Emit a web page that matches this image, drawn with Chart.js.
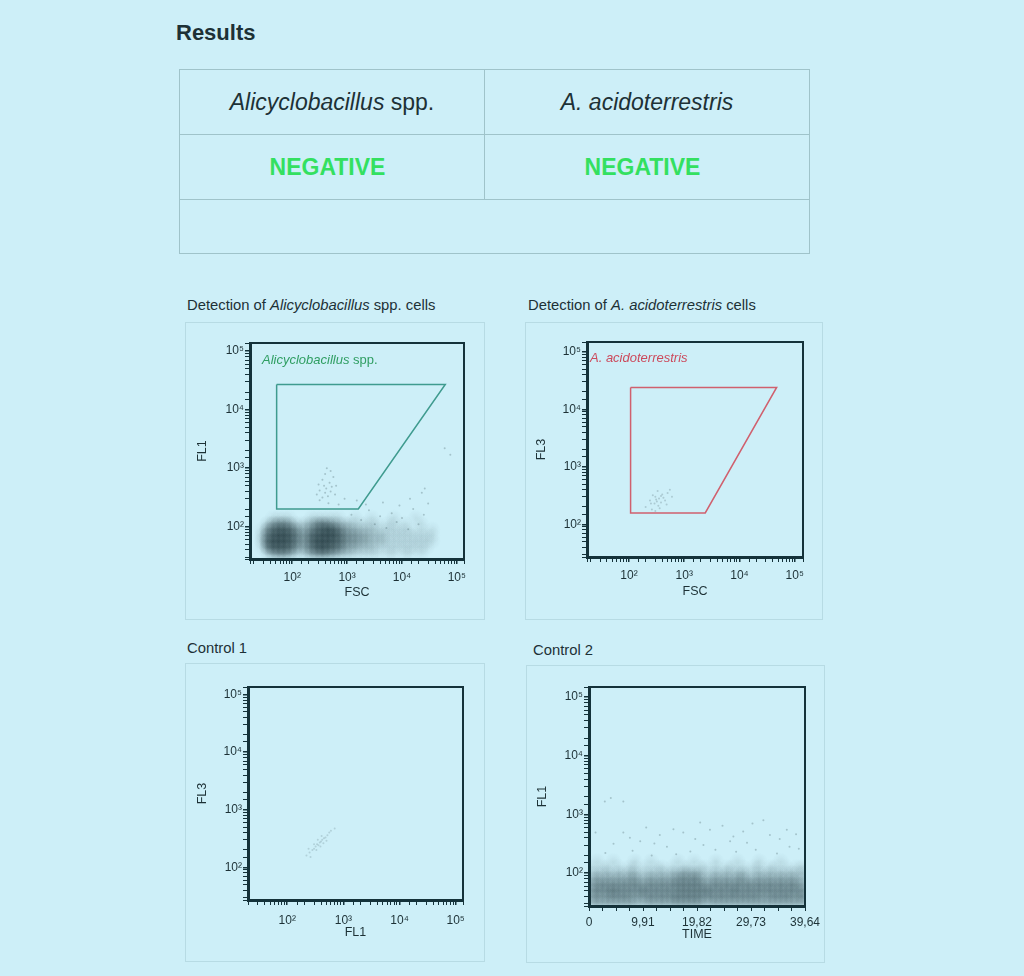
<!DOCTYPE html>
<html><head><meta charset="utf-8">
<script src="https://cdn.jsdelivr.net/npm/chart.js@4.4.1/dist/chart.umd.min.js"></script>
<style>
html,body{margin:0;padding:0;background:#cdeff8;}
body{width:1024px;height:976px;position:relative;overflow:hidden;font-family:"Liberation Sans",Arial,sans-serif;color:#1d3136;}
.abs{position:absolute;white-space:nowrap;}
#results{left:176px;top:22px;font-size:22px;line-height:22px;font-weight:bold;}
#tbl{position:absolute;left:179px;top:69px;width:630px;border-collapse:collapse;table-layout:fixed;}
#tbl td{border:1px solid #9fc3ca;text-align:center;padding:0;font-size:23px;}
#tbl td.neg{color:#33e060;font-weight:bold;padding-right:9px;}
.panel{position:absolute;border:1px solid #b7dbe4;box-sizing:border-box;}
.ptitle{position:absolute;font-size:14.8px;line-height:17px;white-space:nowrap;}
.glabel{position:absolute;font-size:13px;line-height:15px;white-space:nowrap;}
canvas{position:absolute;}
</style></head>
<body>
<div id="results" class="abs">Results</div>
<table id="tbl">
<colgroup><col style="width:305px"><col style="width:325px"></colgroup>
<tr style="height:65px"><td><i>Alicyclobacillus</i> spp.</td><td><i>A. acidoterrestris</i></td></tr>
<tr style="height:65px"><td class="neg">NEGATIVE</td><td class="neg">NEGATIVE</td></tr>
<tr style="height:54px"><td colspan="2"></td></tr>
</table>

<div class="ptitle" style="left:187px;top:297px">Detection of <i>Alicyclobacillus</i> spp. cells</div>
<div class="ptitle" style="left:528px;top:297px">Detection of <i>A. acidoterrestris</i> cells</div>
<div class="ptitle" style="left:187px;top:640px">Control 1</div>
<div class="ptitle" style="left:533px;top:642px">Control 2</div>

<div class="panel" style="left:185px;top:322px;width:300px;height:298px"></div>
<div class="panel" style="left:525px;top:322px;width:298px;height:298px"></div>
<div class="panel" style="left:185px;top:663px;width:300px;height:299px"></div>
<div class="panel" style="left:526px;top:665px;width:299px;height:298px"></div>

<canvas id="c1" width="300" height="298" style="left:185px;top:322px"></canvas>
<canvas id="c2" width="298" height="298" style="left:525px;top:322px"></canvas>
<canvas id="c3" width="300" height="299" style="left:185px;top:663px"></canvas>
<canvas id="c4" width="299" height="298" style="left:526px;top:665px"></canvas>

<div class="glabel" style="left:262px;top:352px;color:#2f9e62"><i>Alicyclobacillus</i> spp.</div>
<div class="glabel" style="left:590px;top:350px;color:#cc4a5c"><i>A. acidoterrestris</i></div>

<script>
// ================= DATA =================
// Panel 1: Detection of Alicyclobacillus spp. cells (FSC vs FL1)
const p1FSCRange = [17, 135000];
const p1FL1Range = [28, 138000];
const p1GateFSC = [52, 61500, 1600, 52, 52];
const p1GateFL1 = [27000, 27000, 200, 200, 27000];
const p1DensityFSCStartLog = 1.3;   // 0.1-decade FSC bins
const p1DensityFL1StartLog = 1.5;   // 0.1-decade FL1 bins
const p1DensityRows = [             // event density 0-9, lowest FL1 row first
  "00245542124565432211111011011010000000",
  "01688875346898764332221111111111000000",
  "02799986447999875443322211111111100000",
  "02689986447899975443322211111111100000",
  "01578875335789864332221111111010100000",
  "00245542123565432211111011010010000000",
  "00011110001111110010010001000100000000"
];
const p1EventsFSC = [280,316,355,380,398,417,447,479,501,525,355,398,562,631,316,457,603,427,501,302,
  1200,1800,2500,3200,4000,5200,6500,8000,10000,13000,16000,20000,25000,2200,4500,9000,30000,23000,14000,1500,700,900,26000,76000,60000];
const p1EventsFL1 = [355,417,316,500,380,447,331,562,398,479,631,794,708,501,282,251,355,1000,891,525,
  160,130,190,110,150,95,170,120,140,90,200,110,160,240,260,230,250,380,300,280,240,300,450,1700,2200];

// Panel 2: Detection of A. acidoterrestris cells (FSC vs FL3)
const p2FSCRange = [17.4, 141000];
const p2FL3Range = [27, 148000];
const p2GateFSC = [107, 47000, 2400, 107, 107];
const p2GateFL3 = [24000, 24000, 158, 158, 24000];
const p2EventsFSC = [200,240,260,290,300,320,340,350,380,400,420,300,450,500,550,270,360,480,330,600,250,310,380];
const p2EventsFL3 = [200,260,180,230,300,250,210,280,240,330,290,170,260,350,400,320,190,220,380,300,230,270,310];

// Panel 3: Control 1 (FL1 vs FL3)
const p3FL1Range = [20, 135000];
const p3FL3Range = [27, 135000];
const p3EventsFL1 = [220,250,280,300,320,340,360,380,400,420,450,480,520,560,600,700,260,330,390,440,300,350,500,410,240];
const p3EventsFL3 = [160,180,200,210,230,250,240,270,280,300,320,330,360,400,430,470,150,200,230,260,250,300,290,350,210];

// Panel 4: Control 2 (TIME vs FL1)
const p4TimeRange = [0, 39.64];
const p4TimeTickLabels = ["0", "9,91", "19,82", "29,73", "39,64"];
const p4FL1Range = [27.5, 148000];
const p4DensityTimeStep = 0.991;    // 40 time bins
const p4DensityFL1StartLog = 1.45;  // 0.1-decade FL1 bins
const p4DensityRows = [             // lowest FL1 row first
  "2323232322232323333332232323232323232323",
  "3333434333343434444443434343434333434334",
  "3434443434434343444444434344343434343434",
  "3343434343343434444443343434343434343433",
  "2323232332232323343432232323322323232322",
  "1212121221121212232321121212211212121212",
  "1011010110101101011011010110101101101011",
  "0100100010010000100100010001000100010000"
];
const p4EventsTime = [2.9,6.3,4.0,6.3,9.4,13.0,17.3,20.4,22.2,25.9,28.3,33.2,36.3,36.8,14.3,4.5,18.6,23.2,30.6,1.2,32.0,8.0,11.5,16.0,27.0,34.5,38.5,10.5,24.5,30.0,3.0,12.0,19.5,21.0,26.5,35.0,38.0,15.5,7.5,29.0];
const p4EventsFL1 = [1660,1660,1900,490,347,447,490,724,550,347,513,447,550,282,282,316,234,251,251,490,794,240,200,210,230,215,260,600,640,700,220,320,380,300,420,380,460,560,400,330];

// ================= RENDER =================
const SUP = {2:'\u00B2',3:'\u00B3',4:'\u2074',5:'\u2075'};
const AX = '#14323a';
const TXT = '#1d3136';
Chart.defaults.font.family = '"Liberation Sans", Arial, "DejaVu Sans", sans-serif';
Chart.defaults.color = TXT;

function logLabel(v){
  const l = Math.log10(v), r = Math.round(l);
  return (Math.abs(l - r) < 1e-6 && SUP[r]) ? '10' + SUP[r] : '';
}
const framePlugin = {
  id: 'frame',
  afterDatasetsDraw(chart){
    const {ctx, chartArea: a} = chart;
    ctx.save(); ctx.strokeStyle = AX; ctx.lineWidth = 2;
    ctx.beginPath(); ctx.moveTo(a.left, a.top); ctx.lineTo(a.right, a.top); ctx.lineTo(a.right, a.bottom); ctx.stroke();
    ctx.restore();
  }
};
function zip(xs, ys){ return xs.map((x, i) => ({x, y: ys[i]})); }

function scaleCfg(o){
  const isX = o.pos === 'bottom';
  const cfg = {
    type: o.type || 'logarithmic', position: o.pos, min: o.range[0], max: o.range[1],
    border: {display: true, color: AX, width: 3},
    grid: {drawOnChartArea: false, drawTicks: true, tickLength: 5, color: AX,
      lineWidth: c => (c.tick && c.tick.major) ? 1.5 : 1},
    ticks: {autoSkip: false, maxRotation: 0, minRotation: 0, padding: o.tickPad, font: {size: 12}, color: TXT,
      callback: o.callback || logLabel},
    title: {display: true, text: o.title, color: TXT, font: {size: 12.5},
      padding: isX ? {top: 0, bottom: o.titlePad} : {top: o.titlePad, bottom: 0}},
    afterFit(s){ if (isX) s.height = o.size; else s.width = o.size; }
  };
  if (o.stepSize) cfg.ticks.stepSize = o.stepSize;
  return cfg;
}

function densityDataset(rows, xStart, xStep, xLog, yStartLog, yStep, gain){
  const pts = [];
  rows.forEach((row, j) => {
    for (let i = 0; i < row.length; i++){
      const d = +row[i]; if (!d) continue;
      const xc = xStart + (i + 0.5) * xStep;
      pts.push({x: xLog ? Math.pow(10, xc) : xc, y: Math.pow(10, yStartLog + (j + 0.5) * yStep), d});
    }
  });
  function radius(ch){
    const sx = ch.scales.x, sy = ch.scales.y;
    if (!sx || !sy) return 8;
    const w = xLog ? Math.abs(sx.getPixelForValue(Math.pow(10, xStart + xStep)) - sx.getPixelForValue(Math.pow(10, xStart)))
                   : Math.abs(sx.getPixelForValue(xStart + xStep) - sx.getPixelForValue(xStart));
    const h = Math.abs(sy.getPixelForValue(Math.pow(10, yStartLog + yStep)) - sy.getPixelForValue(Math.pow(10, yStartLog)));
    const r = 1.5 * Math.max(w, h);
    return isFinite(r) && r > 0 ? r : 8;
  }
  return {
    data: pts, order: 3,
    pointRadius: c => radius(c.chart),
    pointBorderWidth: 0,
    pointBackgroundColor: c => {
      const ch = c.chart, sx = ch.scales.x, sy = ch.scales.y;
      if (!c.raw || !sx || !sy) return 'rgba(0,0,0,0)';
      const px = sx.getPixelForValue(c.raw.x), py = sy.getPixelForValue(c.raw.y);
      if (!isFinite(px) || !isFinite(py)) return 'rgba(0,0,0,0)';
      const r = radius(ch);
      const a = Math.min(0.95, c.raw.d * gain);
      const g = ch.ctx.createRadialGradient(px, py, 0, px, py, r);
      g.addColorStop(0, 'rgba(22,44,50,' + a + ')');
      g.addColorStop(0.5, 'rgba(22,44,50,' + (a * 0.45) + ')');
      g.addColorStop(1, 'rgba(22,44,50,0)');
      return g;
    }
  };
}
function eventsDataset(xs, ys, alpha){
  return {data: zip(xs, ys), order: 2, pointRadius: 1, pointBorderWidth: 0,
    pointBackgroundColor: 'rgba(20,40,45,' + alpha + ')'};
}
function gateDataset(xs, ys, color){
  return {data: zip(xs, ys), order: 1, showLine: true, borderColor: color, borderWidth: 1.5,
    pointRadius: 0, fill: false, tension: 0};
}
function makeChart(id, datasets, xs, ys, pad){
  return new Chart(document.getElementById(id), {
    type: 'scatter',
    data: {datasets},
    options: {
      responsive: false, animation: false, events: [],
      layout: {padding: pad},
      plugins: {legend: {display: false}, tooltip: {enabled: false}},
      scales: {x: xs, y: ys}
    },
    plugins: [framePlugin]
  });
}

// Chart 1
makeChart('c1', [
  gateDataset(p1GateFSC, p1GateFL1, '#3f9b8f'),
  eventsDataset(p1EventsFSC, p1EventsFL1, 0.22),
  densityDataset(p1DensityRows, p1DensityFSCStartLog, 0.1, true, p1DensityFL1StartLog, 0.1, 0.066)
],
  scaleCfg({pos: 'bottom', range: p1FSCRange, title: 'FSC', tickPad: 6, titlePad: 19.5, size: 61}),
  scaleCfg({pos: 'left', range: p1FL1Range, title: 'FL1', tickPad: 1, titlePad: 10.5, size: 65}),
  {left: 0, top: 21, right: 21, bottom: 0});

// Chart 2
makeChart('c2', [
  gateDataset(p2GateFSC, p2GateFL3, '#d0606e'),
  eventsDataset(p2EventsFSC, p2EventsFL3, 0.18)
],
  scaleCfg({pos: 'bottom', range: p2FSCRange, title: 'FSC', tickPad: 6, titlePad: 20.5, size: 63}),
  scaleCfg({pos: 'left', range: p2FL3Range, title: 'FL3', tickPad: 1, titlePad: 9.5, size: 62}),
  {left: 0, top: 20, right: 20, bottom: 0});

// Chart 3
makeChart('c3', [
  eventsDataset(p3EventsFL1, p3EventsFL3, 0.15)
],
  scaleCfg({pos: 'bottom', range: p3FL1Range, title: 'FL1', tickPad: 8, titlePad: 21.5, size: 62}),
  scaleCfg({pos: 'left', range: p3FL3Range, title: 'FL3', tickPad: 1, titlePad: 10.5, size: 63}),
  {left: 0, top: 24, right: 22, bottom: 0});

// Chart 4
makeChart('c4', [
  eventsDataset(p4EventsTime, p4EventsFL1, 0.22),
  densityDataset(p4DensityRows, 0, p4DensityTimeStep, false, p4DensityFL1StartLog, 0.1, 0.08)
],
  scaleCfg({pos: 'bottom', type: 'linear', range: p4TimeRange, title: 'TIME', tickPad: 4, titlePad: 20.5, size: 57,
    stepSize: p4TimeRange[1] / 16,
    callback: (v, i) => (i % 4 === 0 ? (p4TimeTickLabels[i / 4] || '') : '')}),
  scaleCfg({pos: 'left', range: p4FL1Range, title: 'FL1', tickPad: 1, titlePad: 9.5, size: 63}),
  {left: 0, top: 22, right: 20, bottom: 0});
</script>
</body></html>
